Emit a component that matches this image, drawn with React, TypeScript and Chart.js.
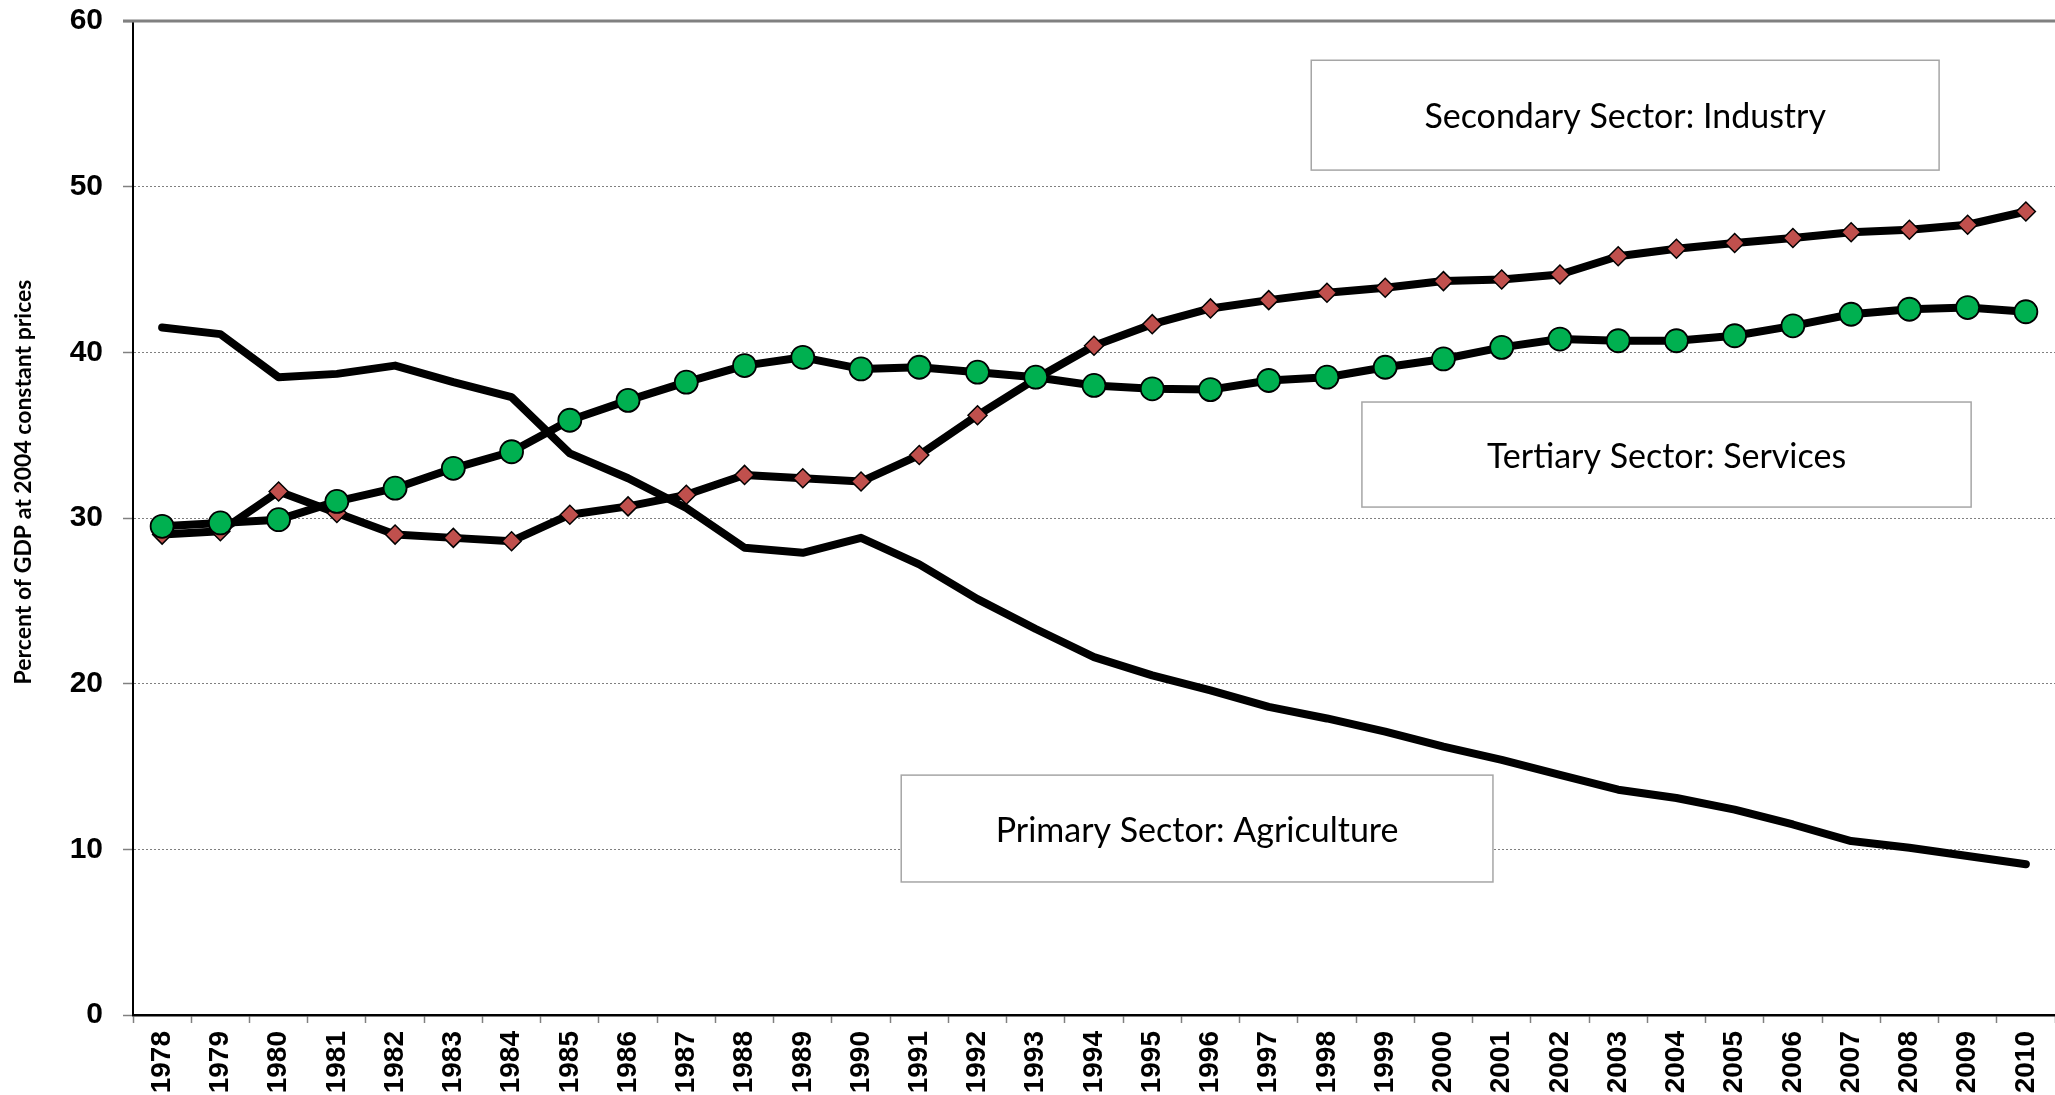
import React, { useEffect, useRef } from 'react';
import { Chart, registerables } from 'chart.js';

Chart.register(...registerables);

const years = [
  '1978', '1979', '1980', '1981', '1982', '1983', '1984', '1985', '1986', '1987', '1988',
  '1989', '1990', '1991', '1992', '1993', '1994', '1995', '1996', '1997', '1998', '1999',
  '2000', '2001', '2002', '2003', '2004', '2005', '2006', '2007', '2008', '2009', '2010',
];

const primary = [
  41.5, 41.1, 38.5, 38.7, 39.2, 38.2, 37.3, 33.9, 32.4, 30.6, 28.2,
  27.9, 28.8, 27.2, 25.1, 23.3, 21.6, 20.5, 19.6, 18.6, 17.9, 17.1,
  16.2, 15.4, 14.5, 13.6, 13.1, 12.4, 11.5, 10.5, 10.1, 9.6, 9.1,
];

const secondary = [
  29.0, 29.2, 31.6, 30.3, 29.0, 28.8, 28.6, 30.2, 30.7, 31.4, 32.6,
  32.4, 32.2, 33.8, 36.2, 38.4, 40.4, 41.7, 42.65, 43.15, 43.6, 43.9,
  44.3, 44.4, 44.7, 45.8, 46.25, 46.6, 46.9, 47.25, 47.4, 47.7, 48.5,
];

const tertiary = [
  29.5, 29.7, 29.9, 31.0, 31.8, 33.0, 34.0, 35.9, 37.1, 38.2, 39.2,
  39.7, 39.0, 39.1, 38.8, 38.5, 38.0, 37.8, 37.75, 38.3, 38.5, 39.1,
  39.6, 40.3, 40.8, 40.7, 40.7, 41.0, 41.6, 42.3, 42.6, 42.7, 42.45,
];

const yMin = 0;
const yMax = 60;
const yStep = 10;

const yTitle = 'Percent of GDP at 2004 constant prices';

const sectorLabels = [
  'Secondary Sector: Industry',
  'Tertiary Sector: Services',
  'Primary Sector: Agriculture',
];

// annotation boxes, in data units (category index / y value)
const annotationBoxes = [
  { label: 0, x0: 19.73, x1: 30.51, yTop: 57.63, yBottom: 51.0 },
  { label: 1, x0: 20.6, x1: 31.06, yTop: 37.0, yBottom: 30.66 },
  { label: 2, x0: 12.69, x1: 22.85, yTop: 14.48, yBottom: 8.03 },
];

const decorPlugin = {
  id: 'decor',
  beforeDatasetsDraw(chart: any) {
    const { ctx, chartArea, scales } = chart;
    const xs = scales.x;
    const ys = scales.y;
    ctx.save();
    // solid top line at max
    const yt = ys.getPixelForValue(yMax);
    ctx.strokeStyle = '#808080';
    ctx.lineWidth = 3;
    ctx.beginPath();
    ctx.moveTo(chartArea.left - 10, yt);
    ctx.lineTo(chart.width, yt);
    ctx.stroke();

    for (const b of annotationBoxes) {
      const l = xs.getPixelForValue(b.x0);
      const r = xs.getPixelForValue(b.x1);
      const t = ys.getPixelForValue(b.yTop);
      const bt = ys.getPixelForValue(b.yBottom);
      ctx.fillStyle = '#ffffff';
      ctx.fillRect(l, t, r - l, bt - t);
      ctx.strokeStyle = '#A6A6A6';
      ctx.lineWidth = 1.5;
      ctx.strokeRect(l, t, r - l, bt - t);
      ctx.fillStyle = '#000000';
      ctx.font = '34px Lato';
      ctx.textAlign = 'center';
      ctx.textBaseline = 'middle';
      ctx.fillText(sectorLabels[b.label], (l + r) / 2, (t + bt) / 2 + 2);
    }
    ctx.restore();
  },
  afterDraw(chart: any) {
    const { ctx } = chart;
    ctx.save();
    ctx.translate(24, 482);
    ctx.rotate(-Math.PI / 2);
    ctx.font = 'bold 23px Lato';
    ctx.fillStyle = '#000000';
    ctx.textAlign = 'center';
    ctx.textBaseline = 'middle';
    ctx.fillText(yTitle, 0, 0);
    ctx.restore();
  },
};

export default function App() {
  const canvasRef = useRef<HTMLCanvasElement | null>(null);

  useEffect(() => {
    document.body.style.margin = '0';
    document.body.style.overflow = 'hidden';
    const canvas = canvasRef.current;
    if (!canvas) return;
    const tickFont = { family: "'Liberation Sans', Arial, sans-serif", weight: 'bold' as const };
    const chart = new Chart(canvas, {
      type: 'line',
      data: {
        labels: years,
        datasets: [
          {
            label: 'Tertiary',
            data: tertiary,
            order: 0,
            borderColor: '#000000',
            borderWidth: 8,
            borderJoinStyle: 'round',
            borderCapStyle: 'round',
            tension: 0,
            pointStyle: 'circle',
            pointRadius: 11.5,
            pointBackgroundColor: '#00B050',
            pointBorderColor: '#000000',
            pointBorderWidth: 1.8,
            fill: false,
          },
          {
            label: 'Secondary',
            data: secondary,
            order: 1,
            borderColor: '#000000',
            borderWidth: 8,
            borderJoinStyle: 'round',
            borderCapStyle: 'round',
            tension: 0,
            pointStyle: 'rectRot',
            pointRadius: 9.5,
            pointBackgroundColor: '#C0504D',
            pointBorderColor: '#000000',
            pointBorderWidth: 1.5,
            fill: false,
          },
          {
            label: 'Primary',
            data: primary,
            order: 2,
            borderColor: '#000000',
            borderWidth: 8,
            borderJoinStyle: 'round',
            borderCapStyle: 'round',
            tension: 0,
            pointRadius: 0,
            fill: false,
          },
        ],
      },
      options: {
        responsive: false,
        animation: false,
        devicePixelRatio: 1,
        layout: { autoPadding: false, padding: { top: 21, right: -3, left: 0, bottom: 0 } },
        plugins: {
          legend: { display: false },
          tooltip: { enabled: false },
        },
        scales: {
          x: {
            offset: true,
            ticks: {
              autoSkip: false,
              minRotation: 90,
              maxRotation: 90,
              padding: 8,
              color: '#000000',
              font: { ...tickFont, size: 28 },
            },
            grid: {
              offset: true,
              drawOnChartArea: false,
              drawTicks: true,
              tickLength: 8,
              tickColor: '#808080',
              tickWidth: 1.5,
            },
            border: { display: true, color: '#000000', width: 2.5 },
            afterFit: (s: any) => {
              s.height = 80;
              s.paddingLeft = 0;
              s.paddingRight = 0;
            },
          },
          y: {
            min: yMin,
            max: yMax,
            ticks: {
              stepSize: yStep,
              padding: 20,
              color: '#000000',
              font: { ...tickFont, size: 30 },
            },
            grid: {
              color: (c: any) =>
                c.tick && (c.tick.value === yMin || c.tick.value === yMax) ? 'rgba(0,0,0,0)' : '#808080',
              lineWidth: 1,
              drawTicks: true,
              tickLength: 10,
              tickColor: '#808080',
              tickWidth: 1.5,
            },
            border: { display: true, color: '#000000', width: 2, dash: [2, 2] },
            afterFit: (s: any) => {
              s.width = 133;
              s.paddingTop = 0;
              s.paddingBottom = 0;
            },
          },
        },
      },
      plugins: [decorPlugin],
    } as any);
    return () => chart.destroy();
  }, []);

  return <canvas ref={canvasRef} width={2055} height={1095} style={{ display: 'block' }} />;
}
